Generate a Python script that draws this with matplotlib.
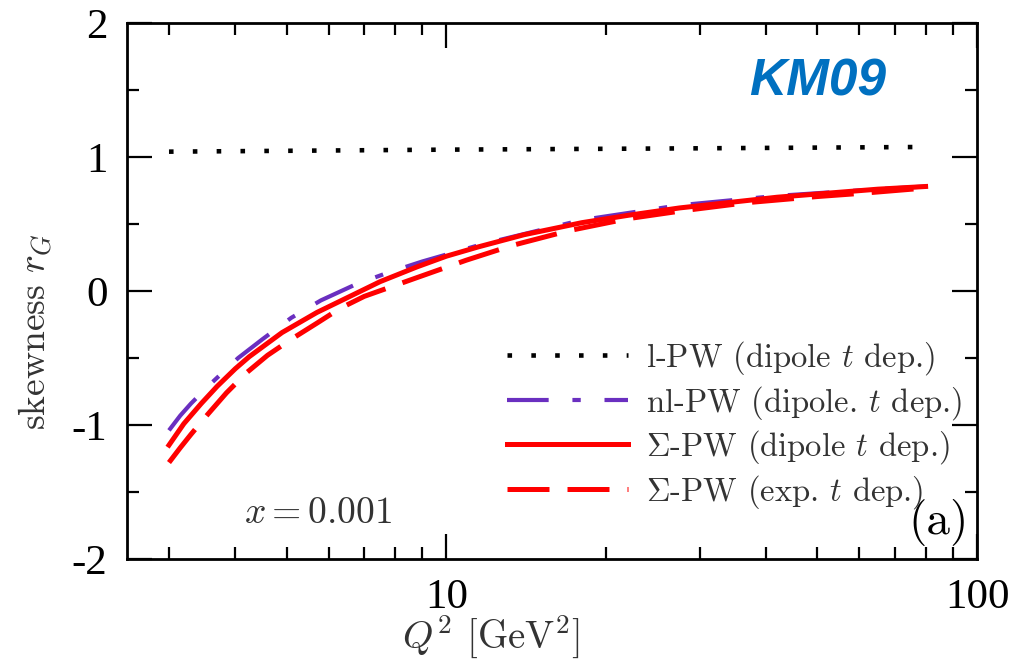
import matplotlib
matplotlib.use('Agg')
import matplotlib.pyplot as plt
from matplotlib.ticker import FixedLocator, NullFormatter, MultipleLocator

plt.rcParams['mathtext.fontset'] = 'cm'

# values (Q^2 in GeV^2, skewness r_G)
q2_lpw = [3.0, 10.0, 30.0, 80.0]
r_lpw = [1.04, 1.055, 1.065, 1.075]

q2_nlpw = [3.0, 3.15, 3.3, 3.6, 4.05, 4.5, 5.1, 5.8, 6.75, 7.8, 9.0, 11.7, 18.0, 27.5, 42.0, 65.0, 80.0]
r_nlpw = [-1.04, -0.93, -0.84, -0.69, -0.50, -0.36, -0.20, -0.07, 0.05, 0.14, 0.22, 0.35, 0.53, 0.64, 0.71, 0.76, 0.78]

q2_sig_dip = [3.0, 3.2, 3.45, 3.7, 4.0, 4.25, 4.9, 5.7, 6.5, 7.5, 8.8, 10.0, 11.5, 14.0, 18.0, 22.0,
              27.5, 42.0, 65.0, 80.0]
r_sig_dip = [-1.15, -0.99, -0.84, -0.71, -0.58, -0.49, -0.31, -0.16, -0.05, 0.07, 0.18, 0.26, 0.33, 0.42,
             0.51, 0.565, 0.62, 0.70, 0.76, 0.78]

q2_sig_exp = [3.0, 3.15, 3.3, 3.55, 3.85, 4.2, 4.6, 5.1, 5.7, 6.3, 7.0, 8.8, 10.9, 13.3, 17.0, 22.0,
              28.0, 37.0, 50.0, 61.0, 78.0]
r_sig_exp = [-1.28, -1.17, -1.07, -0.92, -0.76, -0.61, -0.48, -0.36, -0.24, -0.13, -0.04, 0.10, 0.23,
             0.34, 0.45, 0.54, 0.60, 0.66, 0.705, 0.73, 0.765]

labels = [r'l-PW (dipole $t$ dep.)', r'nl-PW (dipole. $t$ dep.)',
          r'$\Sigma$-PW (dipole $t$ dep.)', r'$\Sigma$-PW (exp. $t$ dep.)']

xticks = [10, 100]
xtick_labels = ['10', '100']
yticks = [-2, -1, 0, 1, 2]
ytick_labels = ['-2', '-1', '0', '1', '2']

fig = plt.figure(figsize=(10.34, 6.69), dpi=100)
ax = fig.add_axes([0.1228, 0.1644, 0.8221, 0.8012])

ax.plot(q2_lpw, r_lpw, color='black', lw=3.3, linestyle=(0, (1, 4.2)), label=labels[0])
ax.plot(q2_nlpw, r_nlpw, color='#6a2fc0', lw=3.0, linestyle=(0, (10, 5.7, 2, 5.7)), label=labels[1])
ax.plot(q2_sig_dip, r_sig_dip, color='#ff0000', lw=3.6, label=labels[2])
ax.plot(q2_sig_exp, r_sig_exp, color='#ff0000', lw=3.6, linestyle=(0, (8.4, 3.6)), label=labels[3])

ax.set_xscale('log')
ax.set_xlim(2.5, 100)
ax.set_ylim(-2, 2)

ax.xaxis.set_major_locator(FixedLocator(xticks))
ax.set_xticklabels(xtick_labels)
ax.xaxis.set_minor_locator(FixedLocator([3, 4, 5, 6, 7, 8, 9, 20, 30, 40, 50, 60, 70, 80, 90]))
ax.xaxis.set_minor_formatter(NullFormatter())
ax.set_yticks(yticks)
ax.set_yticklabels(ytick_labels)
ax.yaxis.set_minor_locator(MultipleLocator(0.5))

for sp in ax.spines.values():
    sp.set_linewidth(2.0)
ax.tick_params(which='both', direction='in', top=True, right=True, width=1.6)
ax.tick_params(which='major', length=18, pad=14)
ax.tick_params(which='minor', length=8.5)
for lab in ax.get_xticklabels() + ax.get_yticklabels():
    lab.set_fontfamily('Liberation Serif')
    lab.set_fontsize(31)

ax.set_xlabel(r'$Q^2$ [GeV$^2$]', fontsize=28, family='cmr10', color='#333333')
ax.xaxis.set_label_coords(0.428, -0.102)
ax.set_ylabel(r'skewness $r_G$', fontsize=27, family='cmr10', color='#333333')
ax.yaxis.set_label_coords(-0.085, 0.425)

leg = ax.legend(loc='upper left', bbox_to_anchor=(0.447, 0.41), frameon=False,
                prop={'family': 'cmr10', 'size': 23.5}, handlelength=3.7,
                handletextpad=0.55, labelspacing=0.2, borderpad=0, borderaxespad=0)
for t in leg.get_texts():
    t.set_color('#333333')

ax.text(0.138, 0.085, r'$x = 0.001$', transform=ax.transAxes, fontsize=27,
        color='#333333', va='center')
ax.text(0.99, 0.068, '(a)', transform=ax.transAxes, fontsize=34,
        family='cmr10', ha='right', va='center')
ax.text(0.812, 0.89, 'KM09', transform=ax.transAxes, fontsize=37,
        family='Liberation Sans', weight='bold', style='italic',
        color='#0070c0', ha='center', va='center')

fig.savefig('out.png', dpi=100)
